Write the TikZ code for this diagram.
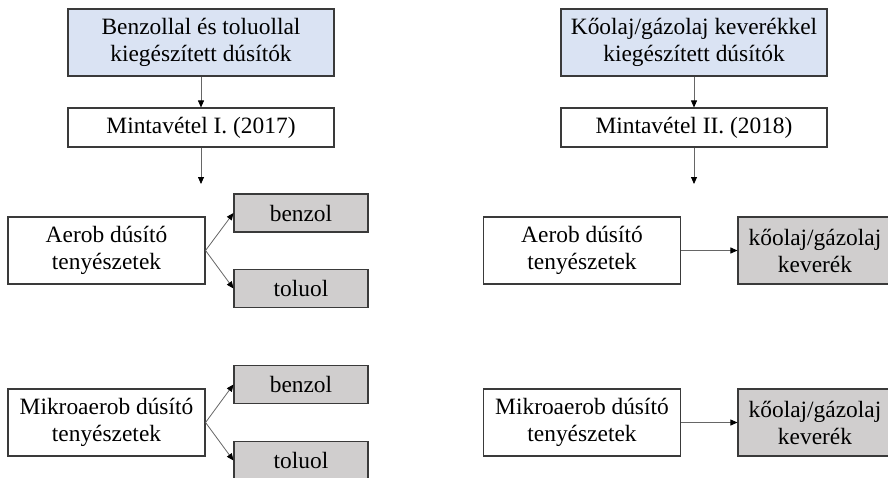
\documentclass[tikz,border=0pt]{standalone}
\usepackage{fontspec}
\setmainfont{Liberation Serif}
\usepackage{tikz}
\usetikzlibrary{arrows.meta,positioning,calc}
\usepackage{xcolor}
\definecolor{srcblue}{HTML}{DAE3F3}
\definecolor{resgray}{HTML}{D0CECE}
\definecolor{edge}{HTML}{3A3A3A}
\tikzset{
  anybox/.style={draw=edge, line width=1.1pt, inner sep=0pt, align=center, font=\fontsize{23.4}{27}\selectfont},
  srcbox/.style={anybox, fill=srcblue, minimum width=266pt, minimum height=67pt},
  stepbox/.style={anybox, fill=white, minimum width=266pt, minimum height=39pt},
  cultbox/.style={anybox, fill=white, minimum width=197pt, minimum height=67pt},
  subbox/.style={anybox, fill=resgray, minimum width=134pt, minimum height=38pt},
  mixbox/.style={anybox, fill=resgray, minimum width=154pt, minimum height=67pt},
  flow/.style={-{Triangle[length=7pt, width=6pt, color=black]}, gray!80!black, line width=0.8pt}
}
\begin{document}
\begin{tikzpicture}[x=1pt, y=-1pt]
  \useasboundingbox (0,0) rectangle (888,477);
  % left: benzol / toluol
  \node[srcbox] (src1) at (201,42.5) {Benzollal és toluollal\\kiegészített dúsítók};
  \node[stepbox] (samp1) at (201,127.5) {Mintavétel I. (2017)};
  \coordinate (end1) at (201,184);
  \node[cultbox] (aer1) at (106.5,250.5) {Aerob dúsító\\tenyészetek};
  \node[subbox] (benz1) at (301,213) {benzol};
  \node[subbox] (tol1) at (301,288.5) {toluol};
  \node[cultbox] (mik1) at (106.5,422.5) {Mikroaerob dúsító\\tenyészetek};
  \node[subbox] (benz2) at (301,384.5) {benzol};
  \node[subbox] (tol2) at (301,460.5) {toluol};
  % right: koolaj / gazolaj
  \node[srcbox] (src2) at (694,42.5) {Kőolaj/gázolaj keverékkel\\kiegészített dúsítók};
  \node[stepbox] (samp2) at (694,127.5) {Mintavétel II. (2018)};
  \coordinate (end2) at (694,184);
  \node[cultbox] (aer2) at (582,250.5) {Aerob dúsító\\tenyészetek};
  \node[mixbox] (mix1) at (815,250.5) {kőolaj/gázolaj\\keverék};
  \node[cultbox] (mik2) at (582,422.5) {Mikroaerob dúsító\\tenyészetek};
  \node[mixbox] (mix2) at (815,422.5) {kőolaj/gázolaj\\keverék};
  % connectors
  \foreach \a/\b in {src1/samp1, src2/samp2} \draw[flow] (\a.south) -- (\b.north);
  \draw[flow] (samp1.south) -- (end1);
  \draw[flow] (samp2.south) -- (end2);
  \foreach \a/\b in {aer1/benz1, aer1/tol1, mik1/benz2, mik1/tol2, aer2/mix1, mik2/mix2}
    \draw[flow] (\a.east) -- (\b.west);
\end{tikzpicture}
\end{document}
